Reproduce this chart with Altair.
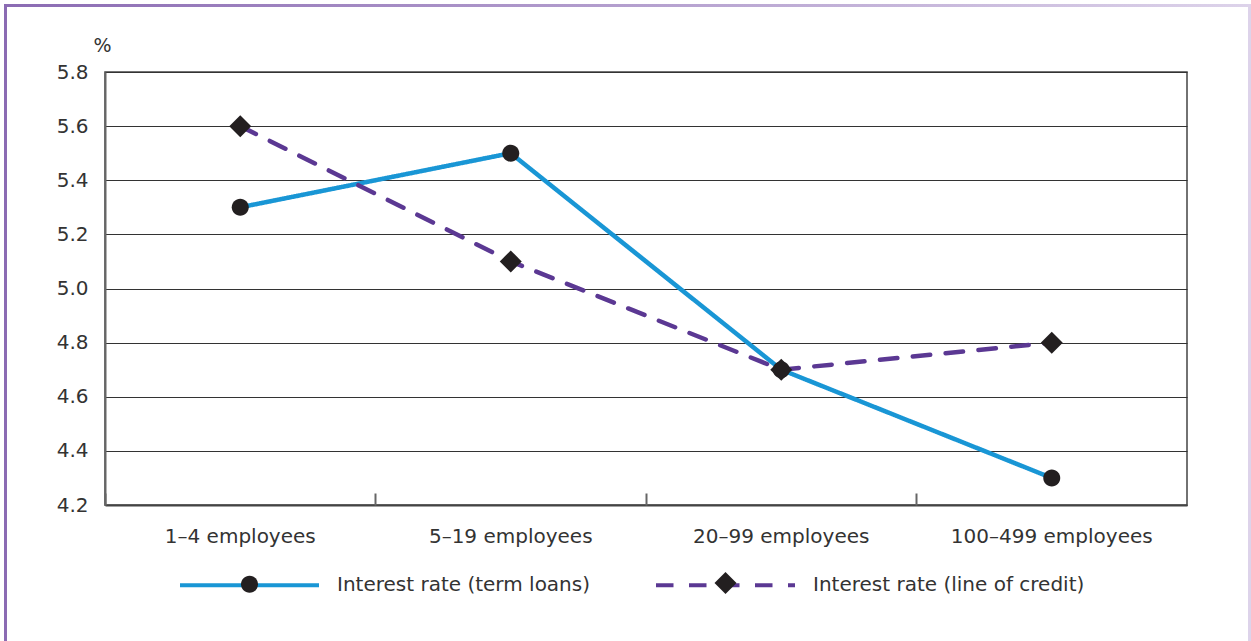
import altair as alt
import pandas as pd

categories = ["1–4 employees", "5–19 employees", "20–99 employees", "100–499 employees"]
series = ["Interest rate (term loans)", "Interest rate (line of credit)"]
term_loans = [5.3, 5.5, 4.7, 4.3]
line_of_credit = [5.6, 5.1, 4.7, 4.8]
y_ticks = [4.2, 4.4, 4.6, 4.8, 5.0, 5.2, 5.4, 5.6, 5.8]

rows = []
for s, vals in zip(series, [term_loans, line_of_credit]):
    for c, v in zip(categories, vals):
        rows.append({"cat": c, "series": s, "value": v})
df = pd.DataFrame(rows)

FONT = "DejaVu Sans"
TXT = "#333333"
BLUE = "#1996d5"
PURPLE = "#5b3893"
MARK = "#231f20"

W, H = 1082, 433

xscale = alt.Scale(type="band", domain=categories, paddingInner=0, paddingOuter=0)
yscale = alt.Scale(domain=[4.2, 5.8], nice=False, zero=False)

yaxis = alt.Axis(
    values=y_ticks, format=".1f", ticks=False, labelPadding=17,
    labelFont=FONT, labelFontSize=20, labelColor=TXT,
    domainColor="#666666", domainWidth=2,
    grid=True, gridColor="#333333", gridWidth=1,
    title="%", titleAngle=0, titleX=-3, titleY=-27, titleAlign="center",
    titleBaseline="middle", titleFont=FONT, titleFontSize=19,
    titleFontWeight="normal", titleColor=TXT,
)

xaxis_bottom = alt.Axis(
    orient="bottom", ticks=False, labelPadding=21, labelAngle=0,
    labelFont=FONT, labelFontSize=20, labelColor=TXT, labelLimit=400,
    domainColor="#444444", domainWidth=2, grid=False, title=None,
)

xaxis_ticks = alt.Axis(
    orient="top", offset=-H, bandPosition=0, labels=False, domain=False,
    ticks=True, tickSize=12, tickColor="#666666", tickWidth=2,
    grid=False, title=None,
)

legend_lines = alt.Legend(
    orient="none", legendX=73, legendY=441.5, direction="horizontal",
    title=None, padding=0, symbolType="stroke", symbolSize=19321,
    symbolStrokeWidth=4, labelFont=FONT, labelFontSize=20, labelColor=TXT,
    labelOffset=16, labelLimit=500, columnPadding=57, gridAlign="each",
)

# circle drawn as a custom path so that it is smaller than the diamond at one size
CIRCLE = "M0.773,0A0.773,0.773,0,1,1,-0.773,0A0.773,0.773,0,1,1,0.773,0Z"

legend_marks = alt.Legend(
    orient="none", legendX=133.5, legendY=500, direction="horizontal",
    title=None, padding=0, symbolFillColor=MARK, symbolStrokeColor=MARK,
    symbolStrokeWidth=0, symbolSize=484, labelExpr="''", labelFontSize=1,
    labelOffset=0, columnPadding=454, gridAlign="each",
)

lines = alt.Chart(df).mark_line(strokeWidth=4.5, strokeCap="round").encode(
    x=alt.X("cat:N", scale=xscale, bandPosition=0.5, axis=xaxis_bottom),
    y=alt.Y("value:Q", scale=yscale, axis=yaxis),
    color=alt.Color("series:N", scale=alt.Scale(domain=series, range=[BLUE, PURPLE]),
                    legend=legend_lines),
    strokeDash=alt.StrokeDash("series:N",
                              scale=alt.Scale(domain=series, range=[[1, 0], [17.5, 15.5]]),
                              legend=legend_lines),
)

points = alt.Chart(df).mark_point(filled=True, color=MARK, opacity=1, size=484).encode(
    x=alt.X("cat:N", scale=xscale, bandPosition=0.5, axis=xaxis_ticks),
    y=alt.Y("value:Q", scale=yscale, axis=yaxis),
    shape=alt.Shape("series:N", sort=series,
                    scale=alt.Scale(range=[CIRCLE, "diamond"]), legend=legend_marks),
)

one = alt.Data(values=[{"k": 1}])
top_border = alt.Chart(one).mark_rect(
    fill=alt.LinearGradient(
        gradient="linear",
        stops=[alt.GradientStop(color="#8b6bb3", offset=0),
               alt.GradientStop(color="#ddd3ea", offset=1)],
        x1=0, x2=1, y1=0, y2=0,
    )
).encode(x=alt.value(-101), x2=alt.value(1146), y=alt.value(-68), y2=alt.value(-65))

left_border = alt.Chart(one).mark_rect(fill="#8b6bb3").encode(
    x=alt.value(-101), x2=alt.value(-98), y=alt.value(-68), y2=alt.value(569))

right_border = alt.Chart(one).mark_rect(fill="#ddd3ea").encode(
    x=alt.value(1143), x2=alt.value(1146), y=alt.value(-68), y2=alt.value(569))

chart = alt.layer(lines, points, top_border, left_border, right_border).resolve_axis(
    x="independent"
).properties(
    width=W, height=H,
    autosize=alt.AutoSizeParams(type="none"),
    padding={"left": 105, "top": 72, "right": 64, "bottom": 136},
    background="white",
).configure_view(
    stroke="#444444", strokeWidth=1.5
)

chart.save("out.html", embed_options={"renderer": "svg", "actions": False})
